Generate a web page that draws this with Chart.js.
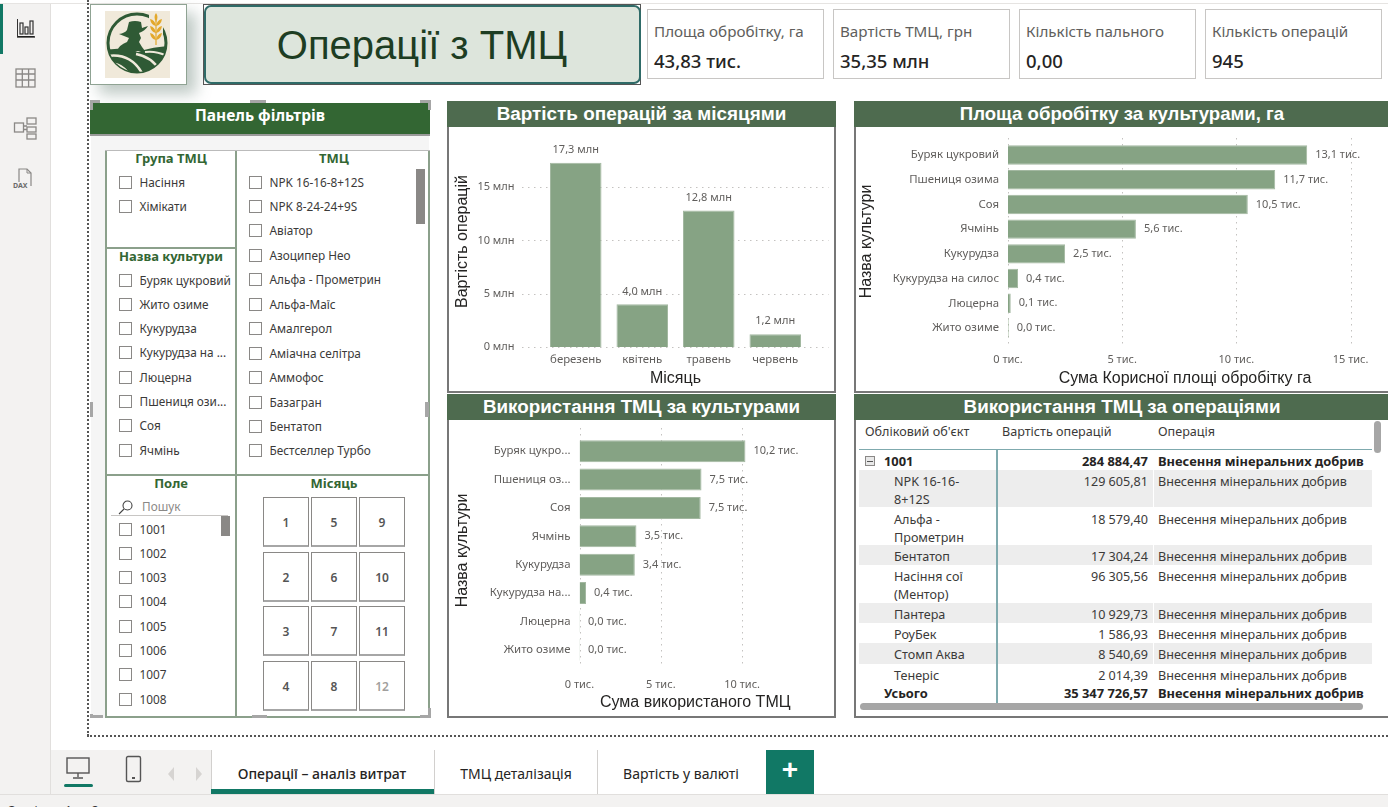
<!DOCTYPE html>
<html lang="uk">
<head>
<meta charset="utf-8">
<title>Операції з ТМЦ</title>
<script src="https://cdn.jsdelivr.net/npm/chart.js@4/dist/chart.umd.min.js"></script>
<style>
html, body { margin: 0; padding: 0; background: #fff; }
#page { position: relative; width: 1388px; height: 807px; overflow: hidden; background: #fff; font-family: "Noto Sans", sans-serif; color: #333; }
.box { position: absolute; box-sizing: border-box; }
.txt { position: absolute; white-space: nowrap; line-height: 1; }
canvas { position: absolute; }
</style>
</head>
<body>
<div id="page"></div>
<script>
// Chart values
const monthLabels = ['березень', 'квітень', 'травень', 'червень'];
const monthValues = [17.3, 4.0, 12.8, 1.2];

const areaCultures = ['Буряк цукровий', 'Пшениця озима', 'Соя', 'Ячмінь', 'Кукурудза', 'Кукурудза на силос', 'Люцерна', 'Жито озиме'];
const areaValues = [13.1, 11.7, 10.5, 5.6, 2.5, 0.44, 0.12, 0.03];

const usageCultures = ['Буряк цукро...', 'Пшениця оз...', 'Соя', 'Ячмінь', 'Кукурудза', 'Кукурудза на...', 'Люцерна', 'Жито озиме'];
const usageValues = [10.2, 7.5, 7.45, 3.5, 3.4, 0.4, 0.03, 0.03];

// Table rows
const tableNames = [['NPK 16-16-', '8+12S'], ['Альфа -', 'Прометрин'], ['Бентатоп'], ['Насіння сої', '(Ментор)'], ['Пантера'], ['РоуБек'], ['Стомп Аква'], ['Тенеріс']];
const tableValues = ['129 605,81', '18 579,40', '17 304,24', '96 305,56', '10 929,73', '1 586,93', '8 540,69', '2 014,39'];
const operationName = 'Внесення мінеральних добрив';

// Slicer lists
const groupItems = ['Насіння', 'Хімікати'];
const cultureItems = ['Буряк цукровий', 'Жито озиме', 'Кукурудза', 'Кукурудза на ...', 'Люцерна', 'Пшениця ози...', 'Соя', 'Ячмінь'];
const tmcItems = ['NPK 16-16-8+12S', 'NPK 8-24-24+9S', 'Авіатор', 'Азоципер Нео', 'Альфа - Прометрин', 'Альфа-Маїс', 'Амалгерол', 'Аміачна селітра', 'Аммофос', 'Базагран', 'Бентатоп', 'Бестселлер Турбо'];
const fieldItems = ['1001', '1002', '1003', '1004', '1005', '1006', '1007', '1008'];
const monthButtons = [['1', '5', '9'], ['2', '6', '10'], ['3', '7', '11'], ['4', '8', '12']];

// KPI cards
const kpiLabels = ['Площа обробітку, га', 'Вартість ТМЦ, грн', 'Кількість пального', 'Кількість операцій'];
const kpiValues = ['43,83 тис.', '35,35 млн', '0,00', '945'];

const page = document.getElementById('page');
const barColor = '#86A384';
const headColor = '#4E6B4F';
const lineColor = '#8BA08B';

function box(x, y, w, h, css) {
    const el = document.createElement('div');
    el.className = 'box';
    el.style.cssText = `left:${x}px;top:${y}px;width:${w}px;height:${h}px;${css || ''}`;
    page.appendChild(el);
    return el;
}

// y is the vertical centre of the text, align says what x means
function put(text, x, y, css, align) {
    const el = document.createElement('span');
    el.className = 'txt';
    el.textContent = text;
    const dx = align === 'center' ? '-50%' : align === 'right' ? '-100%' : '0';
    el.style.cssText = `left:${x}px;top:${y}px;transform:translate(${dx},-50%);${css || ''}`;
    page.appendChild(el);
    return el;
}

function svg(x, y, w, h, inner) {
    const wrap = document.createElement('div');
    wrap.className = 'box';
    wrap.style.cssText = `left:${x}px;top:${y}px;width:${w}px;height:${h}px;`;
    wrap.innerHTML = `<svg width="${w}" height="${h}" viewBox="0 0 ${w} ${h}" xmlns="http://www.w3.org/2000/svg">${inner}</svg>`;
    page.appendChild(wrap);
}

// ---------- app frame ----------
box(0, 0, 1388, 4, 'background:#fff;border-bottom:1px solid #e6e4e2;');
box(0, 4, 51, 791, 'background:#f3f2f1;border-right:1px solid #e1dfdd;');
box(0, 4, 3, 50, 'background:#117865;');
svg(14, 16, 24, 24, '<path d="M3.5 3v17.5h17" fill="none" stroke="#333" stroke-width="1"/><g fill="none" stroke="#333" stroke-width="1.2"><rect x="6" y="7" width="3" height="11"/><rect x="11" y="11" width="3" height="7"/><rect x="16" y="5" width="3" height="13"/></g><path d="M3 21h18" stroke="#111" stroke-width="1.2"/>');
svg(14, 67, 24, 22, '<g fill="none" stroke="#8a8886" stroke-width="1.3"><rect x="2" y="2" width="19" height="18"/><path d="M2 7h19M2 13h19M8.3 2v18M14.6 2v18"/></g>');
svg(13, 116, 26, 24, '<g fill="none" stroke="#8a8886" stroke-width="1.3"><rect x="1.5" y="7" width="9" height="9"/><rect x="14" y="2" width="9" height="6"/><rect x="14" y="11" width="9" height="5"/><rect x="14" y="18" width="9" height="5"/><path d="M10.5 10H14M10.5 13.5H14"/></g>');
svg(12, 167, 26, 24, '<path d="M7 15V2h8l4 4v13" fill="none" stroke="#8a8886" stroke-width="1.2"/><path d="M15 2v4h4" fill="none" stroke="#8a8886"/>');
put('DAX', 13, 185, 'font:bold 7px "Noto Sans";color:#6b6b6b;');

// page dotted border
box(87, 0, 2, 736, 'border-left:2px dotted #555;');
box(87, 735, 1301, 2, 'border-top:2px dotted #555;');

// tabs
box(51, 750, 160, 45, 'background:#f3f2f1;');
box(211, 750, 224, 45, 'background:#fff;border-left:1px solid #d2d0ce;');
box(211, 789, 224, 5, 'background:#117865;');
box(434, 750, 164, 45, 'background:#fff;border-left:1px solid #d2d0ce;');
box(597, 750, 169, 45, 'background:#fff;border-left:1px solid #d2d0ce;');
box(766, 750, 48, 44, 'background:#117865;');
put('+', 790, 770, 'font:bold 28px "Liberation Sans";color:#fff;', 'center');
put('Операції – аналіз витрат', 322, 773, 'font:500 14px "Noto Sans";color:#252423;', 'center');
put('ТМЦ деталізація', 516, 773, 'font:14px "Noto Sans";color:#252423;', 'center');
put('Вартість у валюті', 681, 773, 'font:14px "Noto Sans";color:#252423;', 'center');
svg(64, 756, 30, 32, '<rect x="3" y="2" width="22" height="15" fill="none" stroke="#555" stroke-width="1.4"/><path d="M14 17v4M9 22h10" stroke="#555" stroke-width="1.4"/><rect x="0" y="28" width="29" height="3" rx="1.5" fill="#117865"/>');
svg(124, 755, 20, 28, '<rect x="2.5" y="1.5" width="14" height="25" rx="1.5" fill="none" stroke="#555" stroke-width="1.4"/><rect x="8" y="22" width="3" height="2" fill="#555"/>');
svg(165, 765, 40, 16, '<path d="M9 1L3 8l6 7z" fill="#d6d4d2"/><path d="M31 1l6 7-6 7z" fill="#d6d4d2"/>');
box(0, 794, 1388, 13, 'background:#f3f2f1;border-top:1px solid #e1dfdd;');
put('Сторінка 1 з 3', 7, 810, 'font:12px "Noto Sans";color:#333;word-spacing:4px;');

// ---------- logo and title ----------
box(90, 4, 97, 81, 'background:#fff;border:1px solid #8fa393;box-shadow:9px 9px 14px rgba(70,100,85,.35);');
svg(105, 11, 65, 67, `<rect width="65" height="67" fill="#F0E9DA"/>
<circle cx="32" cy="32" r="29" fill="none" stroke="#2F5A35" stroke-width="3"/>
<clipPath id="cc"><circle cx="32" cy="32" r="29"/></clipPath>
<g clip-path="url(#cc)">
<path d="M0 39C14 37 24 37 33 41C42 38 50 36 65 35V67H0Z" fill="#2F5A35"/>
<path d="M3 45C18 43 31 49 39 66" fill="none" stroke="#F0E9DA" stroke-width="2.5"/>
<path d="M2 52C12 51 21 57 26 66" fill="none" stroke="#F0E9DA" stroke-width="2.5"/>
<path d="M31 43C42 45 50 51 55 60" fill="none" stroke="#F0E9DA" stroke-width="2.5"/>
<path d="M40 41C47 40 54 41 62 45" fill="none" stroke="#F0E9DA" stroke-width="2"/>
</g>
<path d="M14 23Q20 22 22 19L24 11Q30 9 36 11L37 17L43 15Q40 20 34 22L36 27L34 31L37 36L40 40L12 40Q14 34 22 31L24 27Z" fill="#2F5A35"/>
<path d="M44 1h14v33h-14z" fill="#F0E9DA"/>
<path d="M51 2q3 4 0 9q-3-5 0-9zM45 8q5 1 6 7q-5-1-6-7zM57 8q-5 1-6 7q5-1 6-7zM45 15q5 1 6 7q-5-1-6-7zM57 15q-5 1-6 7q5-1 6-7zM45 22q5 1 6 7q-5-1-6-7zM57 22q-5 1-6 7q5-1 6-7z" fill="#E3A82B"/>
<path d="M51 10v24" stroke="#E3A82B" stroke-width="1.2"/>`);
box(203, 4, 438, 81, 'border:1px solid #555;');
box(204, 5, 437, 79, 'background:#DDE5DC;border:2px solid #2F6B68;border-radius:7px;');
put('Операції з ТМЦ', 422, 45, 'font:40px "Liberation Sans";color:#1D3D23;', 'center');

// ---------- KPI cards ----------
[647, 833, 1019, 1205].forEach((x, i) => {
    box(x, 9, 177, 70, 'border:1px solid #c8c6c4;background:#fff;');
    put(kpiLabels[i], x + 7, 31, 'font:15.2px "Noto Sans";color:#605E5C;');
    put(kpiValues[i], x + 7, 60, 'font:500 18.5px "Noto Sans";color:#252423;');
});

// ---------- filter panel ----------
box(91, 136, 338, 582, 'background:#f5f5f5;');
box(105, 151, 325, 567, `background:#fff;border:2px solid ${lineColor};border-top:none;`);
box(90, 103, 340, 33, 'background:#336633;border-bottom:2px solid #9a9a9a;');
put('Панель фільтрів', 260, 115, 'font:bold 15.5px "Noto Sans";color:#fff;', 'center');
box(105, 150, 325, 1, 'background:#bbb;');
box(235, 151, 2, 566, `background:${lineColor};`);
box(105, 247, 130, 2, `background:${lineColor};`);
box(105, 474, 325, 2, `background:${lineColor};`);

function slicerTitle(text, x, y) {
    put(text, x, y, 'font:bold 13px "Noto Sans";color:#336633;', 'center');
}
function slicerItems(items, x, top, pitch) {
    items.forEach((item, i) => {
        const y = top + pitch * i;
        box(x, y - 6.5, 13, 13, 'border:1px solid #8a8886;background:#fff;');
        put(item, x + 20.5, y - 0.5, 'font:11.8px "Noto Sans";color:#3b3a39;');
    });
}
slicerTitle('Група ТМЦ', 171, 158);
slicerItems(groupItems, 119, 182, 24.3);
slicerTitle('ТМЦ', 334, 158);
slicerItems(tmcItems, 249, 182, 24.45);
box(416, 169, 9, 55, 'background:#8a8886;');
slicerTitle('Назва культури', 171, 256);
slicerItems(cultureItems, 119, 280, 24.3);
slicerTitle('Поле', 171, 483);
svg(118, 498, 16, 16, '<circle cx="9.5" cy="6.5" r="4.5" fill="none" stroke="#444" stroke-width="1.1"/><path d="M6 10l-5 5" stroke="#444" stroke-width="1.1"/>');
put('Пошук', 142, 506, 'font:11.8px "Noto Sans";color:#8a8886;');
box(111, 515, 117, 1, 'background:#c8c6c4;');
slicerItems(fieldItems, 119, 529, 24.3);
box(221, 516, 9, 20, 'background:#8a8886;');
slicerTitle('Місяць', 334, 483);
const buttonCols = [263, 311, 359];
const buttonRows = [497, 552, 606, 661];
monthButtons.forEach((row, r) => row.forEach((label, c) => {
    box(buttonCols[c], buttonRows[r], 46, 50, 'border:1px solid #8a8886;border-bottom:2px solid #a6a6a6;background:#fff;');
    put(label, buttonCols[c] + 23, buttonRows[r] + 25, `font:600 12px "Noto Sans";color:${label === '12' ? '#a19f9d' : '#555'};`, 'center');
}));
// selection handles
[[90, 100, 10, 3], [90, 100, 3, 10], [250, 100, 16, 3], [420, 100, 11, 3], [428, 100, 3, 10], [90, 402, 3, 15], [425, 402, 4, 15], [90, 714, 3, 4], [90, 715, 13, 3], [252, 715, 15, 3], [420, 715, 11, 3], [428, 708, 3, 10]].forEach(h => {
    box(h[0], h[1], h[2], h[3], 'background:#a6a6a6;');
});

// ---------- chart panels ----------
function panel(x, y, w, h, title, size) {
    box(x, y, w, h, 'border:2px solid #777;background:#fff;');
    box(x, y, w, 26, `background:${headColor};`);
    put(title, x + w / 2, y + 13, `font:bold ${size}px "Liberation Sans";color:#fff;`, 'center');
}
panel(447, 101, 389, 292, 'Вартість операцій за місяцями', 18.9);
panel(854, 101, 536, 292, 'Площа обробітку за культурами, га', 18.6);
panel(447, 394, 389, 324, 'Використання ТМЦ за культурами', 18.8);
panel(854, 394, 536, 324, 'Використання ТМЦ за операціями', 18.8);

function addCanvas(x, y, w, h) {
    const c = document.createElement('canvas');
    c.width = w;
    c.height = h;
    c.style.left = x + 'px';
    c.style.top = y + 'px';
    c.style.width = w + 'px';
    c.style.height = h + 'px';
    page.appendChild(c);
    return c;
}

function num(v) {
    return v.toFixed(1).replace('.', ',');
}

// dotted grid that runs a little past the plot area, like in Power BI
function dottedGrid(axisId, from, to) {
    return {
        id: 'dottedGrid',
        beforeDatasetsDraw(chart) {
            const s = chart.scales[axisId];
            const a = chart.chartArea;
            const ctx = chart.ctx;
            ctx.save();
            ctx.strokeStyle = '#c4c2c0';
            ctx.lineWidth = 1;
            ctx.setLineDash([1.5, 4.5]);
            s.ticks.forEach(t => {
                const p = Math.round(s.getPixelForValue(t.value)) + 0.5;
                ctx.beginPath();
                if (s.isHorizontal()) {
                    ctx.moveTo(p, a.top - from);
                    ctx.lineTo(p, a.bottom + to);
                } else {
                    ctx.moveTo(a.left - from, p);
                    ctx.lineTo(a.right + to, p);
                }
                ctx.stroke();
            });
            ctx.restore();
        }
    };
}

// value labels next to the bars
function barLabels(unit, horizontal) {
    return {
        id: 'barLabels',
        afterDatasetsDraw(chart) {
            const ctx = chart.ctx;
            const meta = chart.getDatasetMeta(0);
            const values = chart.data.datasets[0].data;
            ctx.save();
            ctx.font = '11px "Noto Sans"';
            ctx.fillStyle = '#605E5C';
            ctx.textBaseline = 'middle';
            meta.data.forEach((bar, i) => {
                const text = num(values[i]) + ' ' + unit;
                if (horizontal) {
                    ctx.textAlign = 'left';
                    ctx.fillText(text, bar.x + 8, bar.y);
                } else {
                    ctx.textAlign = 'center';
                    ctx.fillText(text, bar.x, bar.y - 13);
                }
            });
            ctx.restore();
        }
    };
}

function clearPadding(s) {
    s.paddingTop = 0;
    s.paddingBottom = 0;
    s.paddingLeft = 0;
    s.paddingRight = 0;
}

function barChart(canvas, cfg) {
    const horizontal = cfg.horizontal;
    const valueAxis = {
        min: 0,
        max: cfg.max,
        grid: { display: false, drawTicks: false },
        border: { display: false },
        ticks: {
            stepSize: 5,
            includeBounds: false,
            padding: cfg.valuePad,
            color: '#605E5C',
            font: { family: 'Noto Sans', size: 11 },
            callback: v => v + ' ' + cfg.tickUnit
        },
        title: { display: true, text: cfg.valueTitle, color: '#252423', font: { family: 'Liberation Sans', size: 16 }, padding: cfg.valueTitlePad }
    };
    const catAxis = {
        grid: { display: false, drawTicks: false },
        border: { display: false },
        ticks: {
            padding: cfg.catPad,
            color: '#605E5C',
            autoSkip: false,
            maxRotation: 0,
            font: { family: 'Noto Sans', size: 11.4 }
        },
        title: { display: true, text: cfg.catTitle, color: '#252423', font: { family: 'Liberation Sans', size: 16 }, padding: cfg.catTitlePad }
    };
    const xAxis = horizontal ? valueAxis : catAxis;
    const yAxis = horizontal ? catAxis : valueAxis;
    xAxis.afterFit = s => { s.height = cfg.bottomHeight; clearPadding(s); };
    yAxis.afterFit = s => { s.width = cfg.leftWidth; clearPadding(s); };
    new Chart(canvas, {
        type: 'bar',
        data: {
            labels: cfg.labels,
            datasets: [{
                data: cfg.values,
                backgroundColor: barColor,
                borderColor: '#A3B8A1',
                borderWidth: 1,
                barPercentage: cfg.barPct,
                categoryPercentage: 1
            }]
        },
        options: {
            indexAxis: horizontal ? 'y' : 'x',
            responsive: false,
            animation: false,
            layout: { padding: { top: cfg.topPad, right: cfg.rightPad, left: 0, bottom: 0 } },
            plugins: { legend: { display: false }, tooltip: { enabled: false } },
            scales: { x: xAxis, y: yAxis }
        },
        plugins: [dottedGrid(horizontal ? 'x' : 'y', cfg.gridFrom, cfg.gridTo), barLabels(cfg.labelUnit, horizontal)]
    });
}

barChart(addCanvas(449, 128, 385, 263), {
    horizontal: false,
    labels: monthLabels,
    values: monthValues,
    max: 19.8,
    tickUnit: 'млн',
    labelUnit: 'млн',
    valueTitle: 'Вартість операцій',
    catTitle: 'Місяць',
    valuePad: 28,
    catPad: 6,
    valueTitlePad: { top: 4, bottom: 0 },
    catTitlePad: { top: 0, bottom: 2.5 },
    leftWidth: 93.5,
    bottomHeight: 44,
    topPad: 8,
    rightPad: 25.5,
    barPct: 0.775,
    gridFrom: 20.5,
    gridTo: 20
});

barChart(addCanvas(856, 128, 530, 263), {
    horizontal: true,
    labels: areaCultures,
    values: areaValues,
    max: 15.5,
    tickUnit: 'тис.',
    labelUnit: 'тис.',
    valueTitle: 'Сума Корисної площі обробітку га',
    catTitle: 'Назва культури',
    valuePad: 13,
    catPad: 9,
    valueTitlePad: { top: 0, bottom: 3 },
    catTitlePad: { top: 0.5, bottom: 0 },
    leftWidth: 152,
    bottomHeight: 50.6,
    topPad: 14.6,
    rightPad: 24,
    barPct: 0.786,
    gridFrom: 4.6,
    gridTo: 7.6
});

barChart(addCanvas(449, 421, 385, 295), {
    horizontal: true,
    labels: usageCultures,
    values: usageValues,
    max: 14.23,
    tickUnit: 'тис.',
    labelUnit: 'тис.',
    valueTitle: 'Сума використаного ТМЦ',
    catTitle: 'Назва культури',
    valuePad: 14,
    catPad: 9,
    valueTitlePad: { top: 0, bottom: 3.5 },
    catTitlePad: { top: 4, bottom: 0 },
    leftWidth: 130.5,
    bottomHeight: 52,
    topPad: 16,
    rightPad: 23,
    barPct: 0.775,
    gridFrom: 9,
    gridTo: 4
});

// ---------- table ----------
const cell = 'font:12.6px "Noto Sans";color:#3b3a39;';
const bold = 'font:bold 12.9px "Noto Sans";color:#252423;';
put('Обліковий об\'єкт', 865, 431, cell);
put('Вартість операцій', 1002, 431, cell);
put('Операція', 1158, 431, cell);
box(859, 449, 513, 1, 'background:#7FAAAE;');
const rowTops = [470, 508, 545, 565, 603, 623, 643, 664];
const rowHeights = [37, 37, 20, 38, 20, 20, 21, 20];
tableNames.forEach((lines, i) => {
    const top = rowTops[i];
    if (i % 2 === 0) {
        box(859, top, 294, rowHeights[i], 'background:#ededed;');
        box(1154, top, 218, rowHeights[i], 'background:#ededed;');
    }
    lines.forEach((line, l) => put(line, 894, top + 10.5 + l * 18, cell));
    put(tableValues[i], 1148, top + 10.5, cell, 'right');
    put(operationName, 1158, top + 10.5, cell);
});
box(865, 456, 10, 10, 'border:1px solid #8a8886;background:#e8e8e8;');
box(867, 460.5, 6, 1, 'background:#555;');
put('1001', 884, 461, bold);
put('284 884,47', 1148, 461, bold, 'right');
put(operationName, 1158, 461, bold);
put('Усього', 884, 693, bold);
put('35 347 726,57', 1148, 693, bold, 'right');
put(operationName, 1158, 693, bold);
box(996, 449, 1, 254, 'background:#7FAAAE;width:1.5px;');
box(860, 703, 503, 7, 'background:#a6a6a6;border-radius:4px;');
box(1374, 421, 7, 32, 'background:#a6a6a6;border-radius:4px;');
</script>
</body>
</html>
